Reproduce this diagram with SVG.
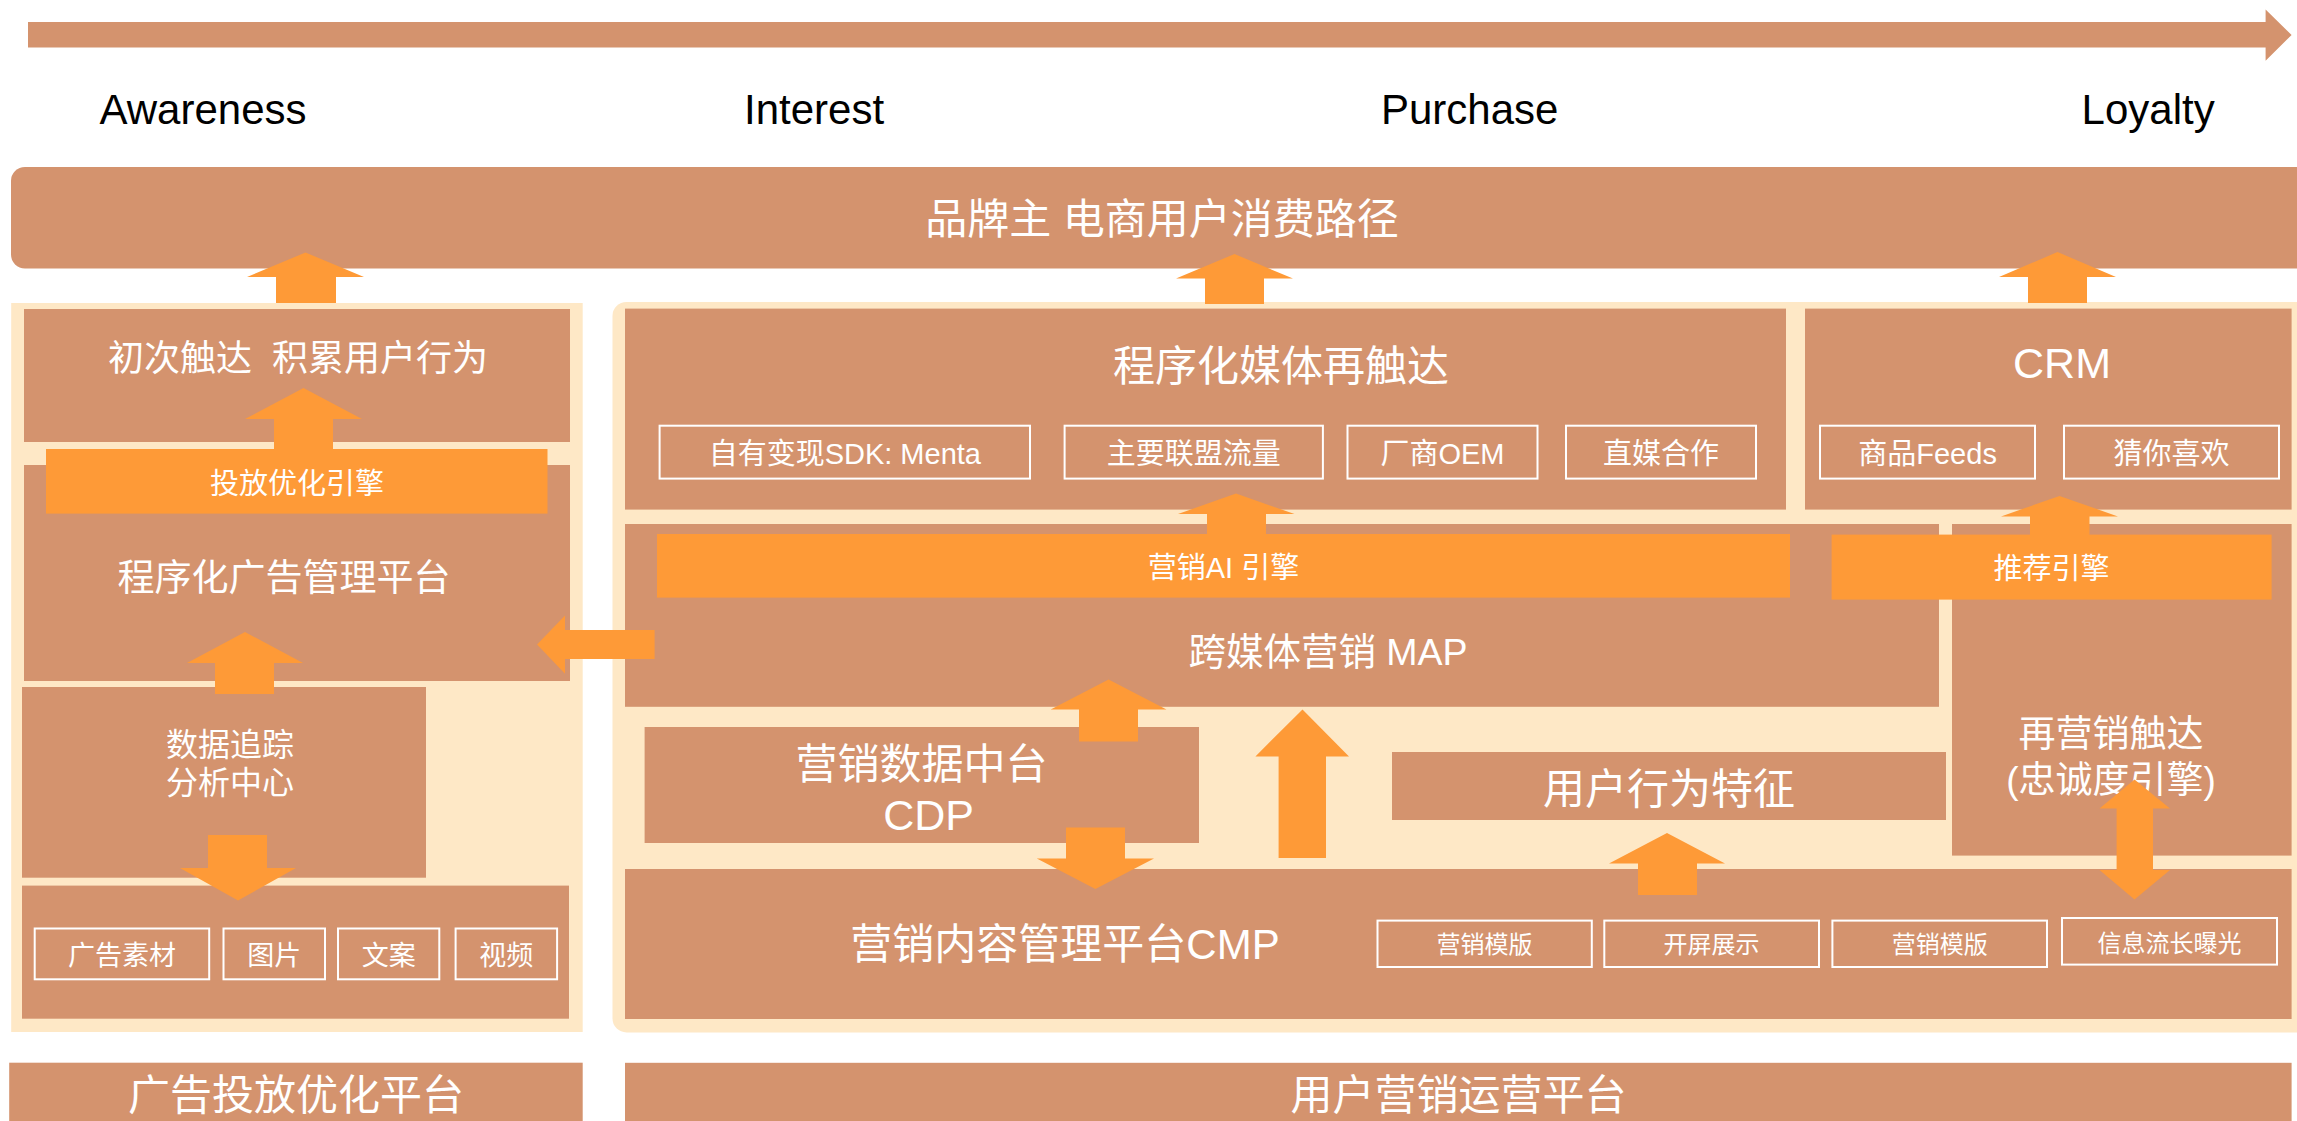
<svg xmlns="http://www.w3.org/2000/svg" width="2297" height="1121" viewBox="0 0 2297 1121">
<defs>
<style>
.tan{fill:#D4936E}
.beige{fill:#FEE8C6}
.eng{fill:#FE9A37}
.arr{fill:#FE9A37}
.sub{fill:none;stroke:#FFFFFF;stroke-width:2}
.w{fill:#FFFFFF;font-family:"Liberation Sans","Noto Sans CJK SC",sans-serif;text-anchor:middle}
.stage{fill:#000000;font-family:"Liberation Sans",sans-serif;font-size:42px}
</style>
</defs>
<rect width="2297" height="1121" fill="#FFFFFF"/>

<g id="timeline">
<polygon class="tan" points="28,22 2265.6,22 2265.6,9.6 2291.6,35 2265.6,60.7 2265.6,47.5 28,47.5"/>
<text class="stage" x="99.5" y="124">Awareness</text>
<text class="stage" x="744" y="124">Interest</text>
<text class="stage" x="1381" y="124">Purchase</text>
<text class="stage" x="2081.6" y="124">Loyalty</text>
</g>

<g id="title">
<rect class="tan" x="11" y="167" width="2310" height="101.6" rx="14"/>
<text class="w" x="1162" y="234" font-size="42">品牌主 电商用户消费路径</text>
</g>

<g id="panel-left">
<rect class="beige" x="11.2" y="303" width="571.5" height="729"/>
</g>
<g id="panel-right">
<rect class="beige" x="612.5" y="302" width="1700" height="730.4" rx="14"/>
</g>

<g id="node-first-touch">
<rect class="tan" x="24" y="309" width="546" height="133"/>
<text class="w" x="298" y="371" font-size="36" style="white-space:pre">初次触达  积累用户行为</text>
</g>

<g id="node-ad-platform">
<rect class="tan" x="24" y="465" width="546" height="216"/>
<text class="w" x="284" y="591" font-size="37">程序化广告管理平台</text>
</g>

<g id="node-ad-engine">
<rect class="eng" x="46" y="449" width="501.5" height="64.6"/>
<text class="w" x="297" y="494" font-size="29">投放优化引擎</text>
</g>

<g id="node-tracking">
<rect class="tan" x="22" y="687" width="404" height="190.7"/>
<text class="w" x="230" y="756" font-size="32">数据追踪</text>
<text class="w" x="230" y="793.5" font-size="32">分析中心</text>
</g>

<g id="node-materials">
<rect class="tan" x="22" y="885.6" width="547" height="133.1"/>
<rect class="sub" x="34.7" y="928.5" width="174.5" height="50.8"/>
<text class="w" x="122" y="965" font-size="27">广告素材</text>
<rect class="sub" x="223.5" y="928.5" width="101.5" height="50.8"/>
<text class="w" x="274.3" y="965" font-size="27">图片</text>
<rect class="sub" x="338" y="928.5" width="101.3" height="50.8"/>
<text class="w" x="388.7" y="965" font-size="27">文案</text>
<rect class="sub" x="455.6" y="928.5" width="101.5" height="50.8"/>
<text class="w" x="506.3" y="965" font-size="27">视频</text>
</g>

<g id="label-ad-optimization">
<rect class="tan" x="9.2" y="1062.7" width="573.5" height="70"/>
<text class="w" x="296" y="1110" font-size="42">广告投放优化平台</text>
</g>

<g id="node-media-retouch">
<rect class="tan" x="625" y="308.6" width="1161" height="201"/>
<text class="w" x="1281" y="381" font-size="42">程序化媒体再触达</text>
<rect class="sub" x="659.6" y="425.7" width="370.4" height="52.9"/>
<text class="w" x="844.8" y="464" font-size="29">自有变现SDK: Menta</text>
<rect class="sub" x="1064.6" y="425.7" width="258.3" height="52.9"/>
<text class="w" x="1193.8" y="464" font-size="29">主要联盟流量</text>
<rect class="sub" x="1347.5" y="425.7" width="190" height="52.9"/>
<text class="w" x="1442.5" y="464" font-size="29">厂商OEM</text>
<rect class="sub" x="1566" y="425.7" width="190" height="52.9"/>
<text class="w" x="1661" y="464" font-size="29">直媒合作</text>
</g>

<g id="node-crm">
<rect class="tan" x="1805" y="308.6" width="486.6" height="201"/>
<text class="w" x="2062" y="378" font-size="43">CRM</text>
<rect class="sub" x="1820" y="425.7" width="215" height="52.9"/>
<text class="w" x="1927.6" y="464" font-size="29">商品Feeds</text>
<rect class="sub" x="2064" y="425.7" width="215" height="52.9"/>
<text class="w" x="2171.5" y="464" font-size="29">猜你喜欢</text>
</g>

<g id="node-map">
<rect class="tan" x="625" y="524" width="1314" height="182.8"/>
<text class="w" x="1328" y="665" font-size="37.5">跨媒体营销 MAP</text>
</g>

<g id="node-ai-engine">
<rect class="eng" x="657" y="534" width="1133" height="63.6"/>
<text class="w" x="1223.5" y="578" font-size="29">营销AI 引擎</text>
</g>

<g id="node-remarketing">
<rect class="tan" x="1952" y="524" width="339.6" height="331.6"/>
<text class="w" x="2111" y="747" font-size="37">再营销触达</text>
<text class="w" x="2111" y="793" font-size="37">(忠诚度引擎)</text>
</g>

<g id="node-rec-engine">
<rect class="eng" x="1831.6" y="534.6" width="440" height="65"/>
<text class="w" x="2051.6" y="579" font-size="29">推荐引擎</text>
</g>

<g id="node-cdp">
<rect class="tan" x="644.6" y="727" width="554.4" height="116"/>
<text class="w" x="921.5" y="779" font-size="42">营销数据中台</text>
<text class="w" x="928.6" y="829.6" font-size="43">CDP</text>
</g>

<g id="node-behavior">
<rect class="tan" x="1392" y="752" width="554" height="68"/>
<text class="w" x="1669" y="804" font-size="42">用户行为特征</text>
</g>

<g id="node-cmp">
<rect class="tan" x="625" y="869" width="1666.6" height="150"/>
<text class="w" x="1065" y="959" font-size="42">营销内容管理平台CMP</text>
<rect class="sub" x="1377.5" y="920.6" width="214.3" height="46.4"/>
<text class="w" x="1484.6" y="953" font-size="24">营销模版</text>
<rect class="sub" x="1604.3" y="920.6" width="214.7" height="46.4"/>
<text class="w" x="1711.6" y="953" font-size="24">开屏展示</text>
<rect class="sub" x="1832.4" y="920.6" width="214.6" height="46.4"/>
<text class="w" x="1939.7" y="953" font-size="24">营销模版</text>
<rect class="sub" x="2062" y="918" width="215" height="46.6"/>
<text class="w" x="2169.5" y="951.5" font-size="24">信息流长曝光</text>
</g>

<g id="label-user-marketing">
<rect class="tan" x="625" y="1062.8" width="1666.6" height="70"/>
<text class="w" x="1458.5" y="1110" font-size="42">用户营销运营平台</text>
</g>

<g id="connectors">
<polygon class="arr" points="276,303 276,277 247,277 305.5,252.5 364,277 336,277 336,303"/>
<polygon class="arr" points="1205,304 1205,278.6 1176,278.6 1234.5,254 1293,278.6 1264,278.6 1264,304"/>
<polygon class="arr" points="2028,303 2028,277 1999,277 2057.5,252 2116,277 2087,277 2087,303"/>
<polygon class="arr" points="274,449 274,419 245,419 303.5,388 362,419 333,419 333,449"/>
<polygon class="arr" points="215,694 215,663 187,663 245,632 303,663 274,663 274,694"/>
<polygon class="arr" points="208,835 267,835 267,868 296,868 238,900.6 180,868 208,868"/>
<polygon class="arr" points="654.6,630 565,630 565,615.5 537,644.5 565,673.8 565,659 654.6,659"/>
<polygon class="arr" points="1207,534 1207,514 1178,514 1236,493.6 1294.5,514 1266,514 1266,534"/>
<polygon class="arr" points="2030,535 2030,516.4 2001,516.4 2059.5,496 2118,516.4 2089.5,516.4 2089.5,535"/>
<polygon class="arr" points="1079,741.4 1079,709.6 1050.7,709.6 1108.6,679.6 1166.5,709.6 1138,709.6 1138,741.4"/>
<polygon class="arr" points="1066,827.4 1125,827.4 1125,858.5 1154,858.5 1095.4,889 1036.8,858.5 1066,858.5"/>
<polygon class="arr" points="1278.6,858 1278.6,756.4 1255.4,756.4 1302.5,709.4 1349,756.4 1326,756.4 1326,858"/>
<polygon class="arr" points="1638,895 1638,863.5 1609,863.5 1667,833 1725,863.5 1697,863.5 1697,895"/>
<polygon class="arr" points="2116.6,808.5 2099.5,808.5 2134.5,779.6 2170,808.5 2153,808.5 2153,870 2170,870 2134.5,899.6 2099.5,870 2116.6,870"/>
</g>
</svg>
